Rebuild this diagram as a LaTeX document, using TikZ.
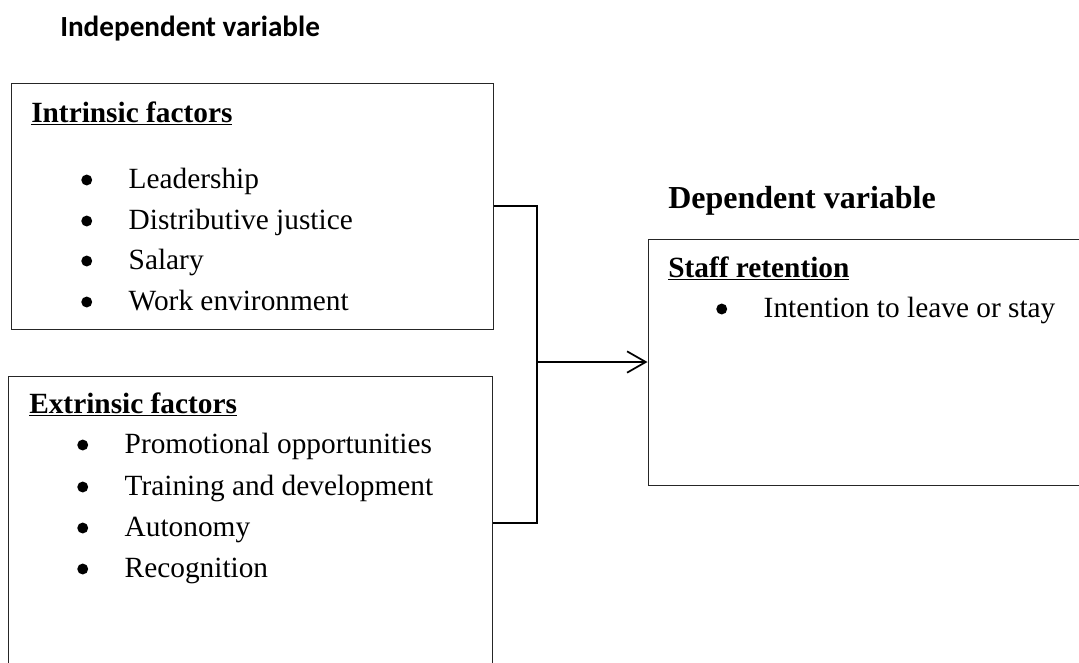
\documentclass[tikz,border=0pt]{standalone}
\usepackage{fontspec}
\setmainfont{Liberation Serif}
\newfontfamily\headfont{Carlito}
\usetikzlibrary{positioning,arrows.meta,calc}

\newcommand{\bulletitem}[1]{\tikz[baseline=0pt]{\fill (0,6pt) circle (4.1pt); \path (31.5pt,0);}#1}

\begin{document}
\begin{tikzpicture}[
    x=0.75pt, y=-0.75pt,
    factorbox/.style = {rectangle, draw=black!85, line width=0.75pt, inner sep=0pt},
    vartitle/.style = {anchor=base west, inner sep=0pt, font=\fontsize{24}{28}\selectfont\bfseries},
    sidetitle/.style = {anchor=base west, inner sep=0pt, font=\headfont\fontsize{21.9}{26}\selectfont\bfseries},
    boxtitle/.style = {anchor=base west, inner sep=0pt, font=\fontsize{22}{26}\selectfont\bfseries},
    itemtext/.style = {anchor=base west, inner sep=0pt, font=\fontsize{22}{26}\selectfont},
    link/.style = {line width=1.3pt},
    result/.style = {link, -{Straight Barb[length=14pt, width=16pt, line width=1.3pt]}}
    ]
    \clip (0,0) rectangle (1079,662);

    % boxes
    \node[factorbox, minimum width=361.5pt, minimum height=184.5pt] (intr) at (252,206) {};
    \node[factorbox, minimum width=363pt, minimum height=243pt] (extr) at (250,538) {};
    \node[factorbox, minimum width=346.5pt, minimum height=184.5pt] (dep) at (879,362) {};

    % headings
    \node[sidetitle] (indep) at (60,36) {Independent variable};
    \node[vartitle] (depvar) at (668,208) {Dependent variable};

    % intrinsic factors
    \node[boxtitle] (intrtitle) at (31,122) {\underline{Intrinsic factors}};
    \node[itemtext] (lead) at (81,188) {\bulletitem{Leadership}};
    \node[itemtext] (justice) at (81,229) {\bulletitem{Distributive justice}};
    \node[itemtext] (salary) at (81,269) {\bulletitem{Salary}};
    \node[itemtext] (workenv) at (81,310) {\bulletitem{Work environment}};

    % extrinsic factors
    \node[boxtitle] (extrtitle) at (29,413) {\underline{Extrinsic factors}};
    \node[itemtext] (promo) at (77,453) {\bulletitem{Promotional opportunities}};
    \node[itemtext] (training) at (77,495) {\bulletitem{Training and development}};
    \node[itemtext] (autonomy) at (77,536) {\bulletitem{Autonomy}};
    \node[itemtext] (recog) at (77,577) {\bulletitem{Recognition}};

    % staff retention
    \node[boxtitle] (deptitle) at (668,277) {\underline{Staff retention}};
    \node[itemtext] (intent) at (716,317) {\bulletitem{Intention to leave or stay}};

    % connectors
    \coordinate (join) at (537,362);
    \coordinate (lowjoin) at (537,523);
    \draw[link] (intr.east) -| (lowjoin) -- (lowjoin -| extr.east);
    \draw[result] (join) -- (dep.west);
\end{tikzpicture}
\end{document}
